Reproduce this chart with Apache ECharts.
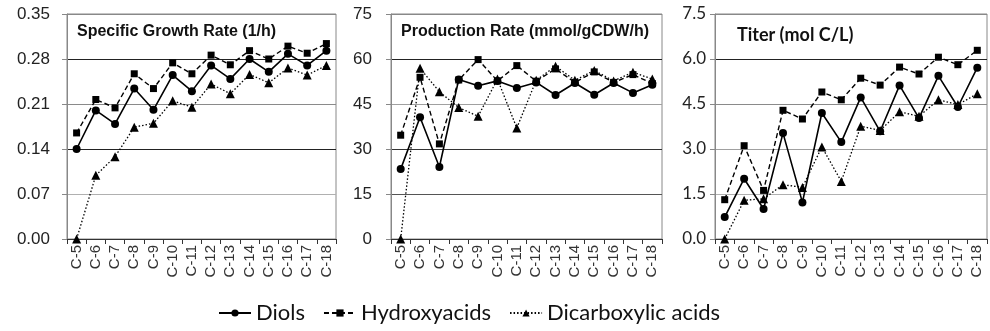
<!DOCTYPE html>
<html>
<head>
<meta charset="utf-8">
<script src="https://cdn.jsdelivr.net/npm/echarts@6/dist/echarts.min.js"></script>
<style>
  html, body { margin: 0; padding: 0; background: #fff; }
  #chart { width: 990px; height: 331px; }
</style>
</head>
<body>
<div id="chart"></div>
<script>
let categories = ['C-5', 'C-6', 'C-7', 'C-8', 'C-9', 'C-10', 'C-11', 'C-12', 'C-13', 'C-14', 'C-15', 'C-16', 'C-17', 'C-18'];
let seriesNames = ['Diols', 'Hydroxyacids', 'Dicarboxylic acids'];

// Specific growth rate (1/h)
let growthDiols = [0.140, 0.200, 0.179, 0.234, 0.201, 0.255, 0.230, 0.270, 0.249, 0.280, 0.260, 0.288, 0.270, 0.293];
let growthHydroxy = [0.165, 0.217, 0.204, 0.257, 0.234, 0.274, 0.257, 0.286, 0.271, 0.293, 0.280, 0.300, 0.289, 0.304];
let growthDicarb = [0.000, 0.099, 0.128, 0.174, 0.180, 0.215, 0.205, 0.241, 0.226, 0.256, 0.243, 0.266, 0.255, 0.270];

// Production rate (mmol/gCDW/h)
let prodDiols = [23.3, 40.6, 24.0, 53.2, 51.1, 52.7, 50.3, 52.2, 48.0, 52.0, 48.1, 52.0, 48.7, 51.4];
let prodHydroxy = [34.6, 53.9, 31.7, 53.0, 59.8, 52.7, 57.8, 52.6, 56.7, 52.2, 55.7, 52.2, 54.8, 51.8];
let prodDicarb = [0.0, 56.9, 49.1, 43.8, 40.9, 53.3, 37.0, 52.9, 57.6, 52.9, 56.2, 52.7, 55.6, 53.3];

// Titer (mol C/L)
let titerDiols = [0.73, 2.01, 1.00, 3.53, 1.22, 4.20, 3.23, 4.72, 3.59, 5.12, 4.03, 5.44, 4.40, 5.71];
let titerHydroxy = [1.31, 3.11, 1.62, 4.29, 4.00, 4.90, 4.64, 5.36, 5.13, 5.73, 5.50, 6.06, 5.81, 6.29];
let titerDicarb = [0.00, 1.29, 1.34, 1.81, 1.72, 3.07, 1.92, 3.76, 3.62, 4.24, 4.09, 4.64, 4.48, 4.84];

let panels = [
    {title: 'Specific Growth Rate (1/h)', max: 0.35, interval: 0.07, decimals: 2,
     data: [growthDiols, growthHydroxy, growthDicarb],
     grid: {left: 67, right: 654}, titleX: 77, titleY: 24, titleFont: 'bold 16px "Liberation Sans", Arial',
     labelMargin: 17, labelFont: '"Liberation Sans", Arial',
     splitColors: ['#333', '#b0b0b0', '#222', '#8a8a8a', '#222', '#888']},
    {title: 'Production Rate (mmol/gCDW/h)', max: 75, interval: 15, decimals: 0,
     data: [prodDiols, prodHydroxy, prodDicarb],
     grid: {left: 391, right: 328}, titleX: 401, titleY: 24, titleFont: 'bold 16px "Liberation Sans", Arial',
     labelMargin: 19, labelFont: '"Liberation Sans", Arial',
     splitColors: ['#333', '#555', '#333', '#a0a0a0', '#222', '#888']},
    {title: 'Titer (mol C/L)', max: 7.5, interval: 1.5, decimals: 1,
     data: [titerDiols, titerHydroxy, titerDicarb],
     grid: {left: 715, right: 3}, titleX: 737, titleY: 26, titleFont: 'bold 18px Lato',
     labelMargin: 9, labelFont: 'Lato',
     splitColors: ['#333', '#b0b0b0', '#a0a0a0', '#8a8a8a', '#222', '#888']}
];

let seriesStyles = [
    {symbol: 'circle', symbolSize: 8, type: 'solid', width: 1.6},
    {symbol: 'rect', symbolSize: 7, type: [5, 3], width: 1.4},
    {symbol: 'triangle', symbolSize: 9, type: [1.5, 2], width: 1.3}
];

let option = {
    animation: false,
    backgroundColor: '#fff',
    grid: [],
    xAxis: [],
    yAxis: [],
    series: [],
    graphic: [],
    legend: {
        data: seriesNames,
        left: 213,
        top: 297,
        itemWidth: 32,
        itemHeight: 9,
        itemGap: 18,
        textStyle: {fontFamily: 'Lato', fontSize: 22, color: '#111'},
        inactiveColor: '#ccc'
    }
};

panels.forEach(function (p, i) {
    option.grid.push({
        left: p.grid.left, right: p.grid.right, top: 14, bottom: 92,
        show: true, borderColor: '#888', borderWidth: 1
    });
    option.xAxis.push({
        type: 'category', gridIndex: i, data: categories, boundaryGap: true,
        axisLine: {lineStyle: {color: '#333', width: 1}},
        axisTick: {show: true, length: 5, lineStyle: {color: '#333'}},
        axisLabel: {rotate: 90, margin: 6, interval: 0, fontFamily: '"Liberation Sans", Arial', fontSize: 15, color: '#333'},
        splitLine: {show: false}
    });
    option.yAxis.push({
        type: 'value', gridIndex: i, min: 0, max: p.max, interval: p.interval,
        axisLine: {show: true, lineStyle: {color: '#888'}},
        axisTick: {show: true, length: 5, lineStyle: {color: '#888'}},
        axisLabel: {
            margin: p.labelMargin, fontFamily: p.labelFont, fontSize: 17, color: '#222',
            formatter: function (value) { return value.toFixed(p.decimals); }
        },
        splitLine: {show: true, lineStyle: {color: p.splitColors, width: 1}}
    });
    for (let s = 0; s < 3; s++) {
        let st = seriesStyles[s];
        option.series.push({
            name: seriesNames[s], type: 'line', xAxisIndex: i, yAxisIndex: i,
            data: p.data[s],
            symbol: st.symbol, symbolSize: st.symbolSize,
            itemStyle: {color: '#000'},
            lineStyle: {color: '#000', width: st.width, type: st.type},
            z: 3 - s
        });
    }
    option.graphic.push({
        type: 'text', left: p.titleX, top: p.titleY,
        style: {text: p.title, font: p.titleFont, fill: '#111'}
    });
});

let chart = echarts.init(document.getElementById('chart'), null, {renderer: 'canvas'});
chart.setOption(option);
</script>
</body>
</html>
